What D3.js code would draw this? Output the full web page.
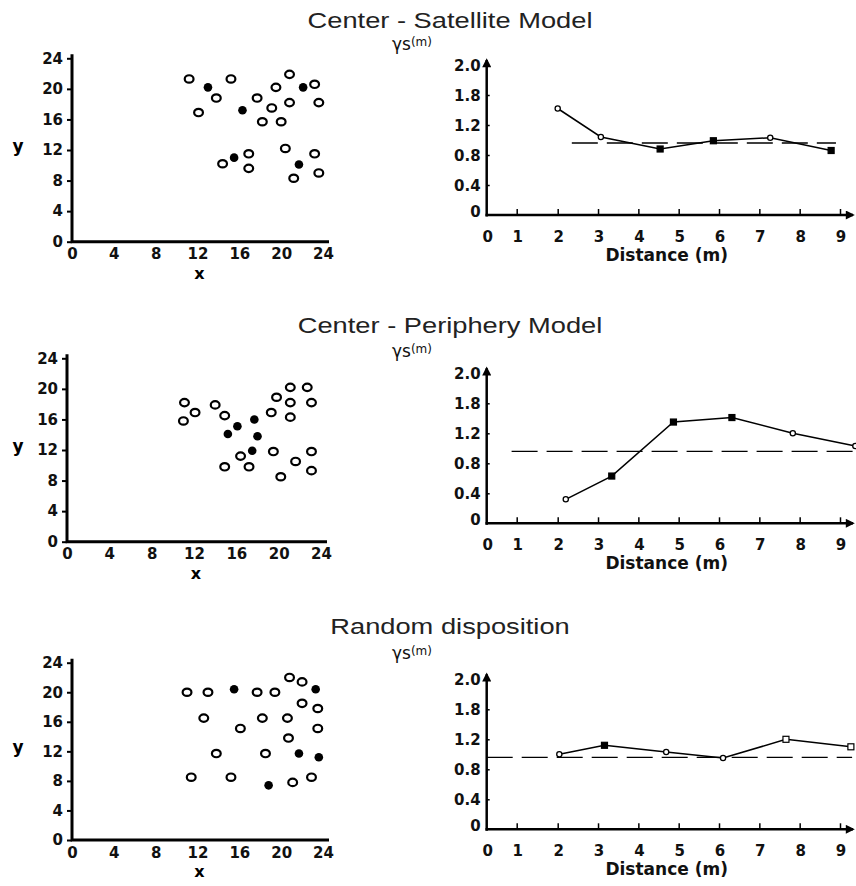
<!DOCTYPE html>
<html>
<head>
<meta charset="utf-8">
<script src="https://cdn.jsdelivr.net/npm/d3@7"></script>
<style>
  html, body { margin: 0; padding: 0; background: #fff; }
  svg { display: block; }
</style>
</head>
<body>
<div id="chart"></div>
<script>
// --- data ---
const panelTitles = ['Center - Satellite Model', 'Center - Periphery Model', 'Random disposition'];

const xyTicks = [0, 4, 8, 12, 16, 20, 24];
const distanceTicks = [0, 1, 2, 3, 4, 5, 6, 7, 8, 9];
const ratioTicks = [0, 0.4, 0.8, 1.2, 1.6, 2.0];
const ratioTickLabels = ['0', '0.4', '0.8', '1.2', '1.8', '2.0'];
const refLevel = 0.96;

// tree positions (x, y) — open = other trees, filled = focal trees
const satelliteOpen = [
  [11.2, 21.3], [15.2, 21.3], [13.8, 18.8], [12.1, 16.9], [17.7, 18.8], [19.5, 20.2],
  [20.8, 21.9], [23.2, 20.6], [19.1, 17.5], [20.8, 18.2], [23.6, 18.2], [18.2, 15.7],
  [20.0, 15.7], [14.4, 10.2], [16.9, 11.5], [16.9, 9.6], [20.4, 12.2], [23.2, 11.5],
  [21.2, 8.3], [23.6, 9.0]
];
const satelliteFilled = [[13.0, 20.2], [16.3, 17.2], [22.1, 20.2], [15.5, 11.0], [21.7, 10.1]];

const peripheryOpen = [
  [11.1, 18.2], [12.1, 16.9], [11.0, 15.8], [14.0, 17.9], [14.9, 16.5], [14.9, 9.8],
  [16.4, 11.2], [17.2, 9.8], [19.3, 16.9], [19.8, 18.9], [21.1, 20.2], [21.1, 18.2],
  [21.1, 16.3], [22.7, 20.2], [23.1, 18.2], [19.5, 11.8], [21.6, 10.5], [20.2, 8.5],
  [23.1, 11.8], [23.1, 9.3]
];
const peripheryFilled = [[15.2, 14.1], [16.1, 15.1], [17.7, 16.0], [18.0, 13.8], [17.5, 11.9]];

const randomOpen = [
  [11.0, 20.0], [13.0, 20.0], [17.7, 20.0], [19.4, 20.0], [20.8, 22.0], [22.0, 21.4],
  [22.0, 18.5], [23.5, 17.8], [12.6, 16.5], [16.1, 15.1], [18.2, 16.5], [20.6, 16.5],
  [23.5, 15.1], [20.7, 13.8], [13.8, 11.7], [18.5, 11.7], [11.4, 8.5], [15.2, 8.5],
  [21.1, 7.8], [22.9, 8.5]
];
const randomFilled = [[15.5, 20.4], [23.3, 20.4], [21.7, 11.7], [23.6, 11.2], [18.8, 7.4]];

// ratio curves: distance (m), value, marker (o = open circle, s = filled square, q = open square)
const satelliteDist = [2.0, 3.07, 4.54, 5.86, 7.27, 8.78];
const satelliteRatio = [1.42, 1.04, 0.88, 0.99, 1.03, 0.86];
const satelliteMarks = ['o', 'o', 's', 's', 'o', 's'];

const peripheryDist = [2.2, 3.34, 4.87, 6.32, 7.83, 9.38];
const peripheryRatio = [0.32, 0.63, 1.35, 1.41, 1.2, 1.03];
const peripheryMarks = ['o', 's', 's', 's', 'o', 'o'];

const randomDist = [2.04, 3.16, 4.69, 6.1, 7.66, 9.27];
const randomRatio = [1.0, 1.12, 1.03, 0.95, 1.2, 1.1];
const randomMarks = ['o', 's', 'o', 'o', 'q', 'q'];

// dashed reference line extent (distance)
const refSpans = [[2.35, 8.9], [0.83, 9.42], [0, 9.3]];

// --- layout ---
const W = 856, H = 886;
const rows = [
  { title: 28,  sx: [72, 323], sy: [241.7, 58.3], lox: 486.7, loy: 215,
    open: satelliteOpen, filled: satelliteFilled,
    dist: satelliteDist, ratio: satelliteRatio, marks: satelliteMarks, yLab: 50 },
  { title: 333, sx: [67, 321], sy: [541.7, 358.3], lox: 486.7, loy: 523.3,
    open: peripheryOpen, filled: peripheryFilled,
    dist: peripheryDist, ratio: peripheryRatio, marks: peripheryMarks, yLab: 357 },
  { title: 634, sx: [72, 323], sy: [840, 662.7], lox: 486.7, loy: 829.3,
    open: randomOpen, filled: randomFilled,
    dist: randomDist, ratio: randomRatio, marks: randomMarks, yLab: 659 }
];

const TICK_FONT = '"DejaVu Sans", sans-serif';

const svg = d3.select('#chart').append('svg')
  .attr('width', W).attr('height', H)
  .attr('viewBox', `0 0 ${W} ${H}`);

svg.append('defs').append('marker')
  .attr('id', 'arrow')
  .attr('viewBox', '0 0 10 10')
  .attr('refX', 8).attr('refY', 5)
  .attr('markerWidth', 11).attr('markerHeight', 9)
  .attr('markerUnits', 'userSpaceOnUse')
  .attr('orient', 'auto')
  .append('path')
  .attr('d', 'M0,0 L10,5 L0,10 Z')
  .attr('fill', '#000');

rows.forEach((r, i) => {
  // title, stretched sideways like the source image
  svg.append('text')
    .attr('transform', `translate(450,${r.title}) scale(1.24,1)`)
    .attr('text-anchor', 'middle')
    .style('font-family', '"Liberation Sans", Arial, sans-serif')
    .style('font-size', '22px')
    .style('fill', '#222')
    .text(panelTitles[i]);

  drawScatter(r);
  drawRatio(r, i);
});

function drawScatter(r) {
  const x = d3.scaleLinear().domain([0, 24]).range(r.sx);
  const y = d3.scaleLinear().domain([0, 24]).range(r.sy);
  const g = svg.append('g');

  // y axis
  const yAxis = g.append('g')
    .attr('transform', `translate(${r.sx[0]},0)`)
    .call(d3.axisLeft(y).tickValues(xyTicks).tickSize(5).tickPadding(4));
  yAxis.select('.domain').remove();
  yAxis.selectAll('line').attr('stroke', '#000').attr('stroke-width', 2);
  yAxis.selectAll('text')
    .style('font-family', TICK_FONT).style('font-size', '15px')
    .style('font-weight', 'bold').attr('fill', '#111');

  // x axis
  const xAxis = g.append('g')
    .attr('transform', `translate(0,${r.sy[0]})`)
    .call(d3.axisBottom(x).tickValues(xyTicks).tickSize(0).tickPadding(7));
  xAxis.select('.domain').remove();
  xAxis.selectAll('text')
    .style('font-family', TICK_FONT).style('font-size', '15px')
    .style('font-weight', 'bold').attr('fill', '#111');

  // heavy axis lines
  g.append('path')
    .attr('d', `M${r.sx[0]},${r.sy[1] - 4}V${r.sy[0]}H${r.sx[1] + 6}`)
    .attr('fill', 'none').attr('stroke', '#000').attr('stroke-width', 3);

  g.append('text')
    .attr('x', (r.sx[0] + r.sx[1]) / 2 + 2).attr('y', r.sy[0] + 37)
    .attr('text-anchor', 'middle')
    .style('font-family', TICK_FONT).style('font-size', '16px').style('font-weight', 'bold')
    .text('x');
  g.append('text')
    .attr('x', 18).attr('y', (r.sy[0] + r.sy[1]) / 2 + 2)
    .attr('text-anchor', 'middle')
    .style('font-family', TICK_FONT).style('font-size', '17px').style('font-weight', 'bold')
    .text('y');

  g.append('g').selectAll('ellipse')
    .data(r.open).join('ellipse')
    .attr('cx', d => x(d[0])).attr('cy', d => y(d[1]))
    .attr('rx', 4.4).attr('ry', 3.7)
    .attr('fill', '#fff').attr('stroke', '#000').attr('stroke-width', 2.2);

  g.append('g').selectAll('circle')
    .data(r.filled).join('circle')
    .attr('cx', d => x(d[0])).attr('cy', d => y(d[1]))
    .attr('r', 4.3).attr('fill', '#000');
}

function drawRatio(r, i) {
  const ox = r.lox, oy = r.loy;
  const x = d3.scaleLinear().domain([0, 1, 2, 9]).range([ox, ox + 30, ox + 71, ox + 353.3]);
  const y = d3.scaleLinear().domain([0, 2]).range([oy, oy - 150]);
  const g = svg.append('g');

  // y label
  const lab = g.append('text')
    .attr('x', 392).attr('y', r.yLab)
    .style('font-family', '"DejaVu Sans", sans-serif')
    .style('fill', '#111');
  lab.append('tspan').style('font-size', '17px').text('γs');
  lab.append('tspan').attr('dy', -4).style('font-size', '12px').text('(m)');

  // dashed reference
  const span = refSpans[i];
  g.append('line')
    .attr('x1', x(span[0])).attr('x2', x(span[1]))
    .attr('y1', y(refLevel)).attr('y2', y(refLevel))
    .attr('stroke', '#000').attr('stroke-width', 1.3)
    .attr('stroke-dasharray', '26,9');

  // axes
  const xAxis = g.append('g')
    .attr('transform', `translate(0,${oy})`)
    .call(d3.axisTop(x).tickValues(distanceTicks.slice(1)).tickSize(6).tickFormat(''));
  xAxis.select('.domain').remove();
  xAxis.selectAll('line').attr('stroke', '#000').attr('stroke-width', 1.5);

  g.append('g').selectAll('text')
    .data(distanceTicks).join('text')
    .attr('x', d => x(d) + 1).attr('y', oy + 27)
    .attr('text-anchor', 'middle')
    .style('font-family', TICK_FONT).style('font-size', '15px').style('font-weight', 'bold')
    .attr('fill', '#111')
    .text(d => d);

  const yAxis = g.append('g')
    .attr('transform', `translate(${ox},0)`)
    .call(d3.axisRight(y).tickValues(ratioTicks.slice(1, 5)).tickSize(3).tickFormat(''));
  yAxis.select('.domain').remove();
  yAxis.selectAll('line').attr('stroke', '#000').attr('stroke-width', 1.5);

  g.append('g').selectAll('text')
    .data(ratioTicks).join('text')
    .attr('x', ox - 6)
    .attr('y', (d, k) => y(d) + (k === 0 ? 2 : 6))
    .attr('text-anchor', 'end')
    .style('font-family', TICK_FONT).style('font-size', '15px').style('font-weight', 'bold')
    .attr('fill', '#111')
    .text((d, k) => ratioTickLabels[k]);

  g.append('line')
    .attr('x1', ox).attr('x2', ox).attr('y1', oy + 1.5).attr('y2', oy - 155)
    .attr('stroke', '#000').attr('stroke-width', 2.5).attr('marker-end', 'url(#arrow)');
  g.append('line')
    .attr('x1', ox - 1.2).attr('x2', 853).attr('y1', oy).attr('y2', oy)
    .attr('stroke', '#000').attr('stroke-width', 2.5).attr('marker-end', 'url(#arrow)');

  g.append('text')
    .attr('x', ox + 180).attr('y', oy + 46)
    .attr('text-anchor', 'middle')
    .style('font-family', TICK_FONT).style('font-size', '17px').style('font-weight', 'bold')
    .attr('fill', '#111')
    .text('Distance (m)');

  // curve
  const pts = r.dist.map((d, k) => ({ d, v: r.ratio[k], m: r.marks[k] }));
  g.append('path')
    .datum(pts)
    .attr('d', d3.line().x(p => x(p.d)).y(p => y(p.v)))
    .attr('fill', 'none').attr('stroke', '#000').attr('stroke-width', 1.5);

  g.append('g').selectAll('circle')
    .data(pts.filter(p => p.m === 'o')).join('circle')
    .attr('cx', p => x(p.d)).attr('cy', p => y(p.v)).attr('r', 2.6)
    .attr('fill', '#fff').attr('stroke', '#000').attr('stroke-width', 1.3);

  g.append('g').selectAll('rect')
    .data(pts.filter(p => p.m !== 'o')).join('rect')
    .attr('x', p => x(p.d) - 3).attr('y', p => y(p.v) - 3)
    .attr('width', 6).attr('height', 6)
    .attr('fill', p => p.m === 's' ? '#000' : '#fff')
    .attr('stroke', '#000').attr('stroke-width', 1.2);
}
</script>
</body>
</html>
